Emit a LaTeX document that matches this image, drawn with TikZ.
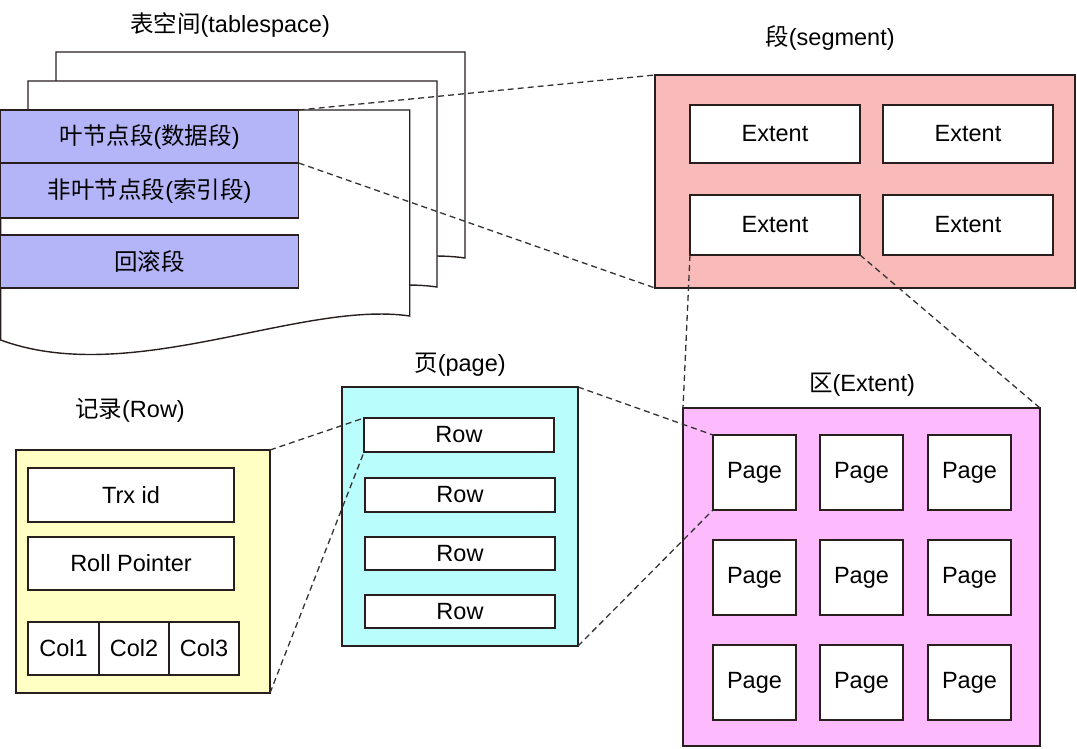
\documentclass[tikz,border=0pt]{standalone}
\usepackage{fontspec}
\setmainfont{Liberation Sans}
\newfontfamily\zhfont{Noto Sans CJK SC}
\newcommand\zh[1]{{\zhfont #1}}
\definecolor{linec}{RGB}{40,30,30}
\definecolor{barblue}{RGB}{180,180,248}
\definecolor{segpink}{RGB}{249,186,186}
\definecolor{extpink}{RGB}{253,186,253}
\definecolor{pagecyan}{RGB}{186,253,253}
\definecolor{recyellow}{RGB}{255,255,196}
\begin{document}
\begin{tikzpicture}[x=1pt,y=-1pt,
  box/.style={draw=linec, line width=1.4pt, fill=white, inner sep=0pt, outer sep=0pt,
    anchor=north west, font=\fontsize{23.5}{27}\selectfont},
  title/.style={inner sep=0pt, font=\fontsize{23.5}{27}\selectfont},
  conn/.style={draw=black!80, line width=1.3pt, dash pattern=on 6pt off 4pt},
  sheet/.style={fill=white, draw=linec, line width=1.4pt}]
\useasboundingbox (0,0) rectangle (1077,748);

% tablespace sheets
\foreach \dx/\dy in {56/-58, 28/-29, 0.7/0} {
  \begin{scope}[shift={(\dx,\dy)}]
    \path[sheet] (0,110) -- (409,110) -- (409,316)
      .. controls (300,300) and (130,388) .. (0,340) -- cycle;
  \end{scope}
}
\node[title] (tstitle) at (230,25) {\zh{表空间}(tablespace)};
\node[box, fill=barblue, minimum width=298pt, minimum height=53pt] (bar1) at (0.7,110) {\zh{叶节点段}(\zh{数据段})};
\node[box, fill=barblue, minimum width=298pt, minimum height=55pt] (bar2) at (0.7,163) {\zh{非叶节点段}(\zh{索引段})};
\node[box, fill=barblue, minimum width=298pt, minimum height=53pt] (bar3) at (0.7,235) {\zh{回滚段}};

% segment
\node[title] (segtitle) at (830,38) {\zh{段}(segment)};
\node[box, fill=segpink, minimum width=420pt, minimum height=213pt] (seg) at (655,75) {};
\node[box, minimum width=170pt, minimum height=58pt] (e1) at (690,105) {Extent};
\node[box, minimum width=170pt, minimum height=58pt] (e2) at (883,105) {Extent};
\node[box, minimum width=170pt, minimum height=60pt] (e3) at (690,195) {Extent};
\node[box, minimum width=170pt, minimum height=60pt] (e4) at (883,195) {Extent};

% extent
\node[title] (exttitle) at (862,385) {\zh{区}(Extent)};
\node[box, fill=extpink, minimum width=357pt, minimum height=338pt] (ext) at (683,408) {};
\foreach \c/\x in {1/713, 2/820, 3/928} {
  \foreach \r/\y in {1/435, 2/540, 3/645} {
    \node[box, minimum width=83pt, minimum height=75pt] (p\r\c) at (\x,\y) {Page};
  }
}

% page
\node[title] (pgtitle) at (460,365) {\zh{页}(page)};
\node[box, fill=pagecyan, minimum width=236pt, minimum height=259pt] (pg) at (342,387) {};
\node[box, minimum width=190pt, minimum height=34pt] (row1) at (364,418) {Row};
\node[box, minimum width=190pt, minimum height=34pt] (row2) at (365,478) {Row};
\node[box, minimum width=190pt, minimum height=33pt] (row3) at (365,537) {Row};
\node[box, minimum width=190pt, minimum height=33pt] (row4) at (365,595) {Row};

% record
\node[title] (rectitle) at (130,410) {\zh{记录}(Row)};
\node[box, fill=recyellow, minimum width=254pt, minimum height=243pt] (rec) at (16,450) {};
\node[box, minimum width=206pt, minimum height=54pt] (trx) at (28,468) {Trx id};
\node[box, minimum width=206pt, minimum height=53pt] (roll) at (28,537) {Roll Pointer};
\node[box, minimum width=71pt, minimum height=53pt] (col1) at (28,622) {Col1};
\node[box, minimum width=70pt, minimum height=53pt] (col2) at (99,622) {Col2};
\node[box, minimum width=70pt, minimum height=53pt] (col3) at (169,622) {Col3};

% connectors
\draw[conn] (bar1.north east) -- (seg.north west);
\draw[conn] (bar1.south east) -- (seg.south west);
\draw[conn] (e3.south west) -- (ext.north west);
\draw[conn] (e3.south east) -- (ext.north east);
\draw[conn] (pg.north east) -- (p11.north west);
\draw[conn] (pg.south east) -- (p11.south west);
\draw[conn] (rec.north east) -- (row1.north west);
\draw[conn] (rec.south east) -- (row1.south west);
\end{tikzpicture}
\end{document}
